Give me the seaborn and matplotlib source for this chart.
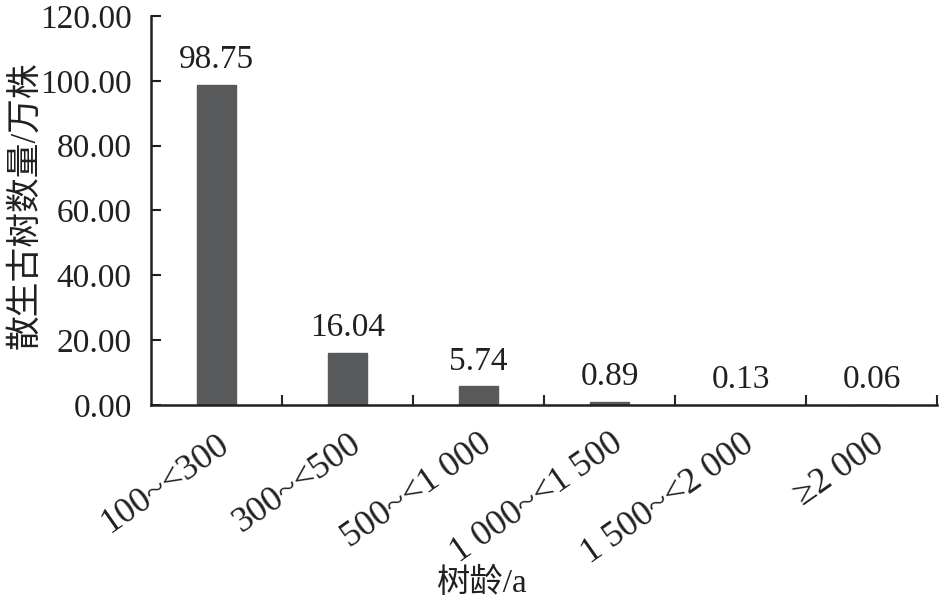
import numpy as np
import pandas as pd
import matplotlib
matplotlib.use('Agg')
import matplotlib.pyplot as plt
import seaborn as sns

categories = ['100~<300', '300~<500', '500~<1 000', '1 000~<1 500', '1 500~<2 000', '≥2 000']
values = [98.75, 16.04, 5.74, 0.89, 0.13, 0.06]
yticks = [0, 20, 40, 60, 80, 100, 120]

df = pd.DataFrame({'age': categories, 'count': values})

sns.set_style('ticks')
plt.rcParams['font.family'] = ['Liberation Serif', 'Noto Sans CJK SC', 'DejaVu Sans']

fig = plt.figure(figsize=(9.39, 6.04), dpi=100)
ax = fig.add_axes([0.161, 0.3295, 0.837, 0.644])

sns.barplot(data=df, x='age', y='count', color='#58595b', width=0.3,
            saturation=1, edgecolor='#58595b', linewidth=1, ax=ax)

ax.bar_label(ax.containers[0], labels=[f'{v:.2f}' for v in values],
             padding=7, fontsize=24, color='#231f20')

ax.set_xlim(-0.5, len(categories) - 0.5)
ax.set_ylim(0, 120)
ax.set_yticks(yticks)
ax.set_yticklabels([f'{t:.2f}' for t in yticks])
ax.tick_params(axis='y', direction='in', length=7, width=1.5, pad=14,
               labelsize=24, colors='#231f20')

ax.set_xticks(range(len(categories)))
ax.set_xticklabels(categories, rotation=35, ha='right', va='top',
                   rotation_mode='anchor')
ax.tick_params(axis='x', which='major', length=0, pad=16, labelsize=26,
               colors='#231f20')
ax.set_xticks(np.arange(len(categories)) + 0.5, minor=True)
ax.tick_params(axis='x', which='minor', direction='in', length=7, width=1.5)

for s in ['top', 'right']:
    ax.spines[s].set_visible(False)
for s in ['left', 'bottom']:
    ax.spines[s].set_linewidth(1.8)
    ax.spines[s].set_color('#231f20')

ax.set_ylabel('散生古树数量/万株', fontsize=25, color='#231f20', va='center')
ax.yaxis.set_label_coords(-0.16, 0.514)
ax.set_xlabel('树龄/a', fontsize=24, color='#231f20', va='center')
ax.xaxis.set_label_coords(0.421, -0.458)

fig.savefig('out.png', dpi=100)
